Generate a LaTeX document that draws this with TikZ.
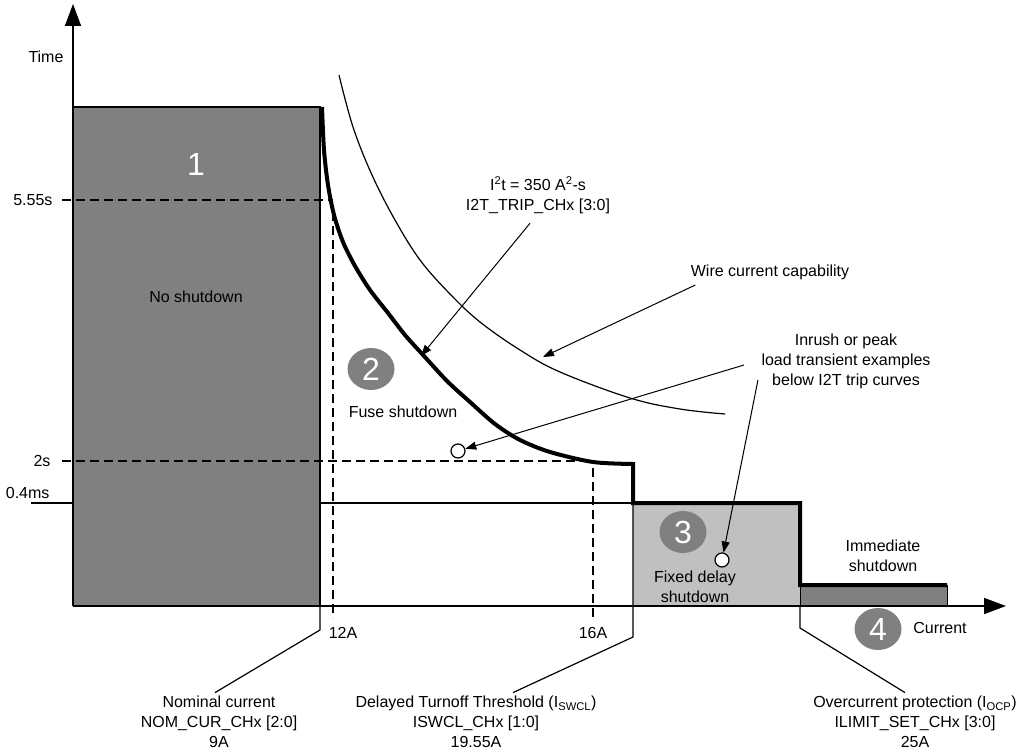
\documentclass[tikz,border=0pt]{standalone}
\usepackage{fontspec}
\setmainfont{Liberation Sans}
\usetikzlibrary{arrows.meta,shapes.geometric}
\definecolor{zonedark}{HTML}{808080}
\definecolor{zonelight}{HTML}{C0C0C0}
\begin{document}
\begin{tikzpicture}[x=1pt,y=-1pt,
		font=\fontsize{16}{20}\selectfont,
		axis/.style={line width=1.6pt,-{Triangle[length=22pt,width=16pt]}},
		pointer/.style={line width=1pt,-{Triangle[length=11pt,width=8pt]}},
		guide/.style={line width=1.8pt,dash pattern=on 9pt off 5pt},
		callout/.style={line width=1.2pt},
		badge/.style={ellipse,fill=zonedark,text=white,inner sep=0pt,
			minimum width=47pt,minimum height=42pt,font=\fontsize{32}{32}\selectfont},
		probe/.style={circle,draw,fill=white,line width=1.2pt,minimum size=14pt,inner sep=0pt}
		]
		\useasboundingbox (0,0) rectangle (1019,754);
		% zones
		\draw [line width=1.2pt] (31,503)--(633,503);
		\filldraw [fill=zonedark,line width=1.6pt] (73,606)--(73,107)--(320,107)--(320,606);
		\fill [zonelight] (633,503) rectangle (800,606);
		\filldraw [fill=zonedark,line width=1pt] (800,585) rectangle (947,606);
		% guide lines
		\draw [guide] (62,200)--(333,200) (333,212)--(333,618);
		\draw [guide] (62,461)--(593,461) (593,468)--(593,618);
		% wire curve and trip curve
		\draw [line width=1.2pt] plot [smooth,tension=.6] coordinates {(339,75) (353,127) (372,175) (395,220) (420,260) (450,294) (480,322) (520,350) (560,372) (630,398) (680,409) (725,414)};
		\draw [line width=4pt,line join=miter] plot [smooth] coordinates {(322,107) (324,150) (328,185) (334,215) (343,242) (355,266) (370,290) (388,313) (405,335) (424,356) (447,381) (470,402) (495,424) (520,440) (550,452) (593,462) (633,464)}
			--(633,503)--(800,503)--(800,585)--(947,585);
		% axes
		\draw [axis] (73,606)--(73,4);
		\draw [axis] (73,606)--(1006,606);
		% axis labels
		\node [anchor=east] (time) at (67,57) {Time};
		\node [anchor=east] (t555) at (56,200) {5.55s};
		\node [anchor=east] (t2) at (54,461) {2s};
		\node [anchor=east] (t04) at (53,493) {0.4ms};
		\node (a12) at (343,633) {12A};
		\node (a16) at (593,633) {16A};
		\node (cur) at (940,628) {Current};
		% zone labels
		\node [badge] (z1) at (196,164) {1};
		\node [badge] (z2) at (371,369) {2};
		\node [badge] (z3) at (683,532) {3};
		\node [badge] (z4) at (878,629) {4};
		\node (noshut) at (196,297) {No shutdown};
		\node (fuse) at (403,412) {Fuse shutdown};
		\node [align=center] (fixed) at (695,587) {Fixed delay\\shutdown};
		\node [align=center] (immed) at (883,556) {Immediate\\shutdown};
		% annotations
		\node [align=center] (i2t) at (538,195) {I\textsuperscript{2}t = 350 A\textsuperscript{2}-s\\I2T\_TRIP\_CHx [3:0]};
		\node (wire) at (770,272) {Wire current capability};
		\node [align=center] (inrush) at (846,361) {Inrush or peak\\load transient examples\\below I2T trip curves};
		\node [probe] (c1) at (458,451) {};
		\node [probe] (c2) at (722,560) {};
		\coordinate (tripcurve) at (421,356);
		\coordinate (wirecurve) at (543,357);
		\draw [pointer] ([xshift=-8pt,yshift=-6pt]i2t.south)--(tripcurve);
		\draw [pointer] ([xshift=8pt,yshift=-2pt]wire.south west)--(wirecurve);
		\draw [pointer] ([xshift=-14pt,yshift=-4pt]inrush.west)--(c1);
		\draw [pointer] ([xshift=0pt,yshift=-19pt]inrush.west)--(c2);
		% thresholds
		\node [align=center] (nom) at (219,722) {Nominal current\\NOM\_CUR\_CHx [2:0]\\9A};
		\node [align=center] (swcl) at (476,722) {Delayed Turnoff Threshold (I\textsubscript{SWCL})\\ISWCL\_CHx [1:0]\\19.55A};
		\node [align=center] (ocp) at (915,722) {Overcurrent protection (I\textsubscript{OCP})\\ILIMIT\_SET\_CHx [3:0]\\25A};
		\draw [callout] (320,606)--(320,630)--([xshift=-4pt]nom.north);
		\draw [callout] (633,503)--(633,637)--([xshift=37pt]swcl.north);
		\draw [callout] (800,606)--(800,628)--([xshift=-10pt]ocp.north);
\end{tikzpicture}
\end{document}
